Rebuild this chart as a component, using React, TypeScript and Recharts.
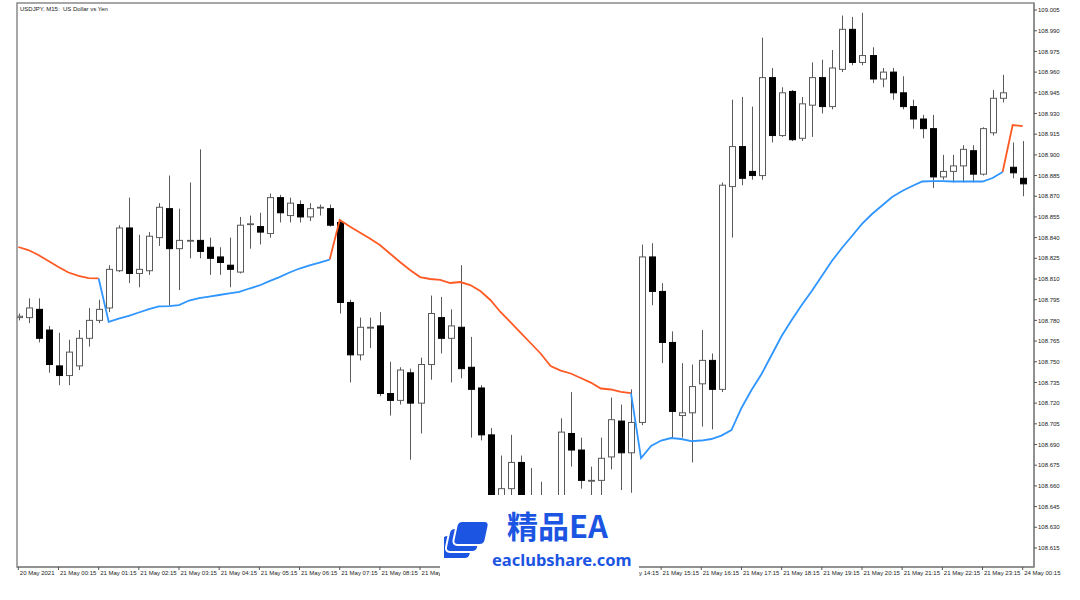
import React from "react";
import {
  ComposedChart,
  Bar,
  Line,
  XAxis,
  YAxis,
  ReferenceArea,
} from "recharts";

// USDJPY M15, 20 May 23:15 -> 24 May 00:15 (101 bars)
const open = [
  108.782, 108.782, 108.788, 108.773, 108.747, 108.74, 108.747, 108.767, 108.78, 108.789,
  108.816, 108.847, 108.814, 108.816, 108.84, 108.861, 108.832, 108.838, 108.838, 108.833,
  108.826, 108.82, 108.815, 108.85, 108.848, 108.843, 108.869, 108.856, 108.864, 108.855,
  108.862, 108.861, 108.851, 108.793, 108.755, 108.775, 108.776, 108.727, 108.722, 108.742,
  108.72, 108.748, 108.782, 108.767, 108.775, 108.746, 108.731, 108.697, 108.646, 108.658,
  108.677, 108.646, 108.65, 108.644, 108.648, 108.698, 108.686, 108.664, 108.664, 108.681,
  108.707, 108.684, 108.706, 108.826, 108.801, 108.764, 108.711, 108.713, 108.734, 108.751,
  108.73, 108.877, 108.906, 108.888, 108.885, 108.956, 108.914, 108.946, 108.912, 108.936,
  108.956, 108.935, 108.962, 108.991, 108.967, 108.972, 108.955, 108.96, 108.945, 108.935,
  108.926, 108.919, 108.884, 108.888, 108.892, 108.903, 108.886, 108.916, 108.941, 108.891,
  108.883,
];
const high = [
  108.785, 108.796, 108.796, 108.776, 108.771, 108.766, 108.773, 108.789, 108.795, 108.82,
  108.849, 108.869, 108.842, 108.844, 108.865, 108.885, 108.861, 108.88, 108.904, 108.84,
  108.833, 108.84, 108.855, 108.856, 108.858, 108.872, 108.871, 108.869, 108.867, 108.865,
  108.864, 108.864, 108.853, 108.795, 108.782, 108.782, 108.786, 108.75, 108.746, 108.745,
  108.753, 108.798, 108.797, 108.788, 108.82, 108.768, 108.733, 108.702, 108.682, 108.697,
  108.682, 108.673, 108.663, 108.651, 108.709, 108.728, 108.695, 108.674, 108.695, 108.724,
  108.719, 108.73, 108.835, 108.836, 108.807, 108.772, 108.749, 108.748, 108.773, 108.756,
  108.88, 108.94, 108.942, 108.935, 108.985, 108.963, 108.949, 108.947, 108.942, 108.967,
  108.969, 108.976, 109.001, 109.0, 109.003, 108.978, 108.963, 108.963, 108.957, 108.94,
  108.929, 108.929, 108.9, 108.9, 108.907, 108.907, 108.92, 108.947, 108.958, 108.909,
  108.91,
];
const low = [
  108.78, 108.778, 108.764, 108.742, 108.733, 108.733, 108.744, 108.761, 108.778, 108.786,
  108.815, 108.807, 108.804, 108.813, 108.834, 108.791, 108.802, 108.825, 108.825, 108.813,
  108.813, 108.804, 108.814, 108.832, 108.835, 108.84, 108.851, 108.851, 108.851, 108.852,
  108.856, 108.848, 108.785, 108.735, 108.751, 108.76, 108.725, 108.711, 108.719, 108.679,
  108.698, 108.737, 108.756, 108.735, 108.738, 108.695, 108.693, 108.639, 108.641, 108.653,
  108.639, 108.639, 108.639, 108.639, 108.644, 108.674, 108.658, 108.653, 108.653, 108.672,
  108.657, 108.655, 108.704, 108.791, 108.749, 108.695, 108.695, 108.677, 108.703, 108.701,
  108.728, 108.84, 108.878, 108.882, 108.882, 108.909, 108.913, 108.91, 108.91, 108.913,
  108.93, 108.933, 108.96, 108.965, 108.965, 108.952, 108.949, 108.94, 108.933, 108.919,
  108.912, 108.876, 108.882, 108.88, 108.88, 108.88, 108.885, 108.914, 108.938, 108.883,
  108.87,
];
const close = [
  108.783, 108.789, 108.767, 108.748, 108.74, 108.757, 108.767, 108.78, 108.788, 108.817,
  108.847, 108.814, 108.817, 108.841, 108.862, 108.832, 108.838, 108.838, 108.83, 108.825,
  108.822, 108.817, 108.849, 108.85, 108.844, 108.869, 108.858, 108.865, 108.855, 108.861,
  108.862, 108.849, 108.793, 108.755, 108.775, 108.775, 108.727, 108.722, 108.744, 108.72,
  108.748, 108.785, 108.767, 108.776, 108.745, 108.73, 108.697, 108.644, 108.658, 108.677,
  108.646, 108.651, 108.646, 108.648, 108.699, 108.686, 108.664, 108.664, 108.68, 108.708,
  108.684, 108.706, 108.826, 108.801, 108.764, 108.714, 108.713, 108.732, 108.751, 108.73,
  108.878, 108.906, 108.883, 108.885, 108.956, 108.914, 108.945, 108.911, 108.937, 108.956,
  108.935, 108.963, 108.991, 108.967, 108.972, 108.955, 108.96, 108.945, 108.935, 108.926,
  108.919, 108.884, 108.888, 108.892, 108.904, 108.886, 108.919, 108.941, 108.945, 108.887,
  108.879,
];

// trend line: orange while above price, blue while below
const upLine = [
  108.8332, 108.831, 108.8274, 108.823, 108.8187, 108.8147, 108.8122, 108.8107, 108.8104, null,
  null, null, null, null, null, null, null, null, null, null,
  null, null, null, null, null, null, null, null, null, null,
  null, 108.8241, 108.8528, 108.848, 108.8437, 108.8393, 108.8346, 108.8285, 108.8223, 108.8165,
  108.8114, 108.81, 108.8093, 108.8071, 108.8078, 108.8056, 108.8013, 108.7948, 108.7861, 108.7788,
  108.7712, 108.7636, 108.756, 108.7469, 108.7436, 108.7415, 108.7382, 108.7349, 108.7306, 108.7299,
  108.7281, 108.7273, null, null, null, null, null, null, null, null,
  null, null, null, null, null, null, null, null, null, null,
  null, null, null, null, null, null, null, null, null, null,
  null, null, null, null, null, null, null, null, 108.8876, 108.9216,
  108.9209,
];
const dnLine = [
  null, null, null, null, null, null, null, null, 108.8104, 108.779,
  108.7813, 108.7832, 108.7857, 108.7882, 108.7902, 108.7904, 108.7911, 108.7944, 108.7962, 108.7973,
  108.7984, 108.7995, 108.8006, 108.8031, 108.8053, 108.8085, 108.8114, 108.8147, 108.8176, 108.8198,
  108.8219, 108.8241, null, null, null, null, null, null, null, null,
  null, null, null, null, null, null, null, null, null, null,
  null, null, null, null, null, null, null, null, null, null,
  null, 108.7273, 108.6802, 108.6889, 108.6929, 108.6947, 108.694, 108.6925, 108.6929, 108.694,
  108.6965, 108.7005, 108.7165, 108.7295, 108.7411, 108.7549, 108.7687, 108.7803, 108.7911, 108.8013,
  108.8122, 108.823, 108.8325, 108.8412, 108.8499, 108.8571, 108.8633, 108.8694, 108.8738, 108.8774,
  108.8807, 108.881, 108.881, 108.8807, 108.8807, 108.8807, 108.8807, 108.8832, 108.8876, null,
  null,
];

const timeTicks = [0, 4, 8, 12, 16, 20, 24, 28, 32, 36, 40, 44, 48, 52, 56, 60, 64, 68, 72, 76, 80, 84, 88, 92, 96, 100];
const timeLabels = [
  "20 May 2021", "21 May 00:15", "21 May 01:15", "21 May 02:15", "21 May 03:15",
  "21 May 04:15", "21 May 05:15", "21 May 06:15", "21 May 07:15", "21 May 08:15",
  "21 May 09:15", "21 May 10:15", "21 May 11:15", "21 May 12:15", "21 May 13:15",
  "21 May 14:15", "21 May 15:15", "21 May 16:15", "21 May 17:15", "21 May 18:15",
  "21 May 19:15", "21 May 20:15", "21 May 21:15", "21 May 22:15", "21 May 23:15",
  "24 May 00:15",
];
const priceTicks = [
  108.615, 108.63, 108.645, 108.66, 108.675, 108.69, 108.705, 108.72, 108.735, 108.75,
  108.765, 108.78, 108.795, 108.81, 108.825, 108.84, 108.855, 108.87, 108.885, 108.9,
  108.915, 108.93, 108.945, 108.96, 108.975, 108.99, 109.005,
];

const X_DOMAIN: [number, number] = [-0.13, 101.125];
const Y_DOMAIN: [number, number] = [108.6012, 109.0101];
const FONT = "'Liberation Sans', Arial, sans-serif";
const FRAME = "#8a8a8a";

const data = open.map((o, i) => ({
  i,
  o,
  h: high[i],
  l: low[i],
  c: close[i],
  range: [low[i], high[i]],
  up: upLine[i],
  dn: dnLine[i],
}));

function Candle(props: any) {
  const { x, y, width, height, payload } = props;
  if (!payload) return null;
  const { o, h, l, c } = payload;
  const top = Math.min(y, y + height);
  const span = Math.abs(height);
  const k = span / (h - l);
  const py = (v: number) => top + (h - v) * k;
  const cx = Math.round(x + width / 2) + 0.5;
  const bTop = py(Math.max(o, c));
  const bBot = py(Math.min(o, c));
  const bull = c >= o;
  return (
    <g>
      <line x1={cx} x2={cx} y1={top} y2={top + span} stroke="#5a5a5a" strokeWidth={1} />
      <rect
        x={cx - 3}
        y={bTop}
        width={6}
        height={Math.max(bBot - bTop, 0.8)}
        fill={bull ? "#ffffff" : "#000000"}
        stroke={bull ? "#5a5a5a" : "#000000"}
        strokeWidth={1}
      />
    </g>
  );
}

function TimeTick(props: any) {
  const { x, y, payload } = props;
  const label = timeLabels[timeTicks.indexOf(payload.value)];
  return (
    <text x={x + 1.5} y={y} dy="0.71em" fontSize={6} fill="#222" fontFamily={FONT} textAnchor="start">
      {label}
    </text>
  );
}

function Watermark() {
  return (
    <div
      style={{
        position: "absolute",
        left: 440,
        top: 495,
        width: 199,
        height: 105,
        background: "#fff",
        color: "#1d55e3",
        fontFamily: "'Noto Sans CJK SC', 'Noto Sans', sans-serif",
        fontWeight: 700,
      }}
    >
      <svg width={48} height={44} style={{ position: "absolute", left: 4, top: 24 }}>
        <rect x={2} y={16} width={32} height={24} rx={5} fill="#1d55e3" stroke="#fff" strokeWidth={2} transform="skewX(-12)" />
        <rect x={8} y={9} width={32} height={24} rx={5} fill="#1d55e3" stroke="#fff" strokeWidth={2} transform="skewX(-12)" />
        <rect x={14} y={2} width={32} height={24} rx={5} fill="#1d55e3" stroke="#fff" strokeWidth={2} transform="skewX(-12)" />
      </svg>
      <div style={{ position: "absolute", left: 67, top: 10, fontSize: 31, lineHeight: "40px" }}>精品EA</div>
      <div style={{ position: "absolute", left: 52, top: 55, fontSize: 16.5, lineHeight: "20px", fontFamily: "'Noto Sans', sans-serif" }}>
        eaclubshare.com
      </div>
    </div>
  );
}

export default function App() {
  return (
    <div style={{ position: "absolute", left: 0, top: 0, width: 1080, height: 600, background: "#fff" }}>
      <ComposedChart
        width={1080}
        height={600}
        data={data}
        margin={{ top: 3, right: 0, bottom: 0, left: 17 }}
      >
        <XAxis
          type="number"
          dataKey="i"
          domain={X_DOMAIN}
          allowDataOverflow
          ticks={timeTicks}
          interval={0}
          height={33}
          tick={<TimeTick />}
          tickSize={3}
          tickMargin={1}
          axisLine={{ stroke: FRAME, strokeWidth: 1.5 }}
          tickLine={{ stroke: "#555" }}
        />
        <YAxis
          orientation="right"
          type="number"
          domain={Y_DOMAIN}
          allowDataOverflow
          ticks={priceTicks}
          interval={0}
          width={46}
          tickFormatter={(v: number) => v.toFixed(3)}
          tick={{ fontSize: 6, fill: "#222", fontFamily: FONT }}
          tickSize={3}
          tickMargin={1}
          axisLine={{ stroke: FRAME, strokeWidth: 1.5 }}
          tickLine={{ stroke: "#555" }}
        />
        <ReferenceArea
          x1={X_DOMAIN[0]}
          x2={X_DOMAIN[1]}
          y1={Y_DOMAIN[0]}
          y2={Y_DOMAIN[1]}
          fill="none"
          stroke={FRAME}
          strokeWidth={1.5}
          ifOverflow="visible"
        />
        <Bar dataKey="range" barSize={7} shape={(p: any) => <Candle {...p} />} isAnimationActive={false} />
        <Line
          dataKey="up"
          type="linear"
          stroke="#ff5a24"
          strokeWidth={1.8}
          dot={false}
          connectNulls={false}
          isAnimationActive={false}
        />
        <Line
          dataKey="dn"
          type="linear"
          stroke="#2f95ff"
          strokeWidth={1.8}
          dot={false}
          connectNulls={false}
          isAnimationActive={false}
        />
      </ComposedChart>
      <div
        style={{
          position: "absolute",
          left: 20,
          top: 5,
          fontSize: 6,
          lineHeight: "8px",
          color: "#222",
          fontFamily: FONT,
          whiteSpace: "pre",
        }}
      >
        USDJPY, M15:  US Dollar vs Yen
      </div>
      <Watermark />
    </div>
  );
}
